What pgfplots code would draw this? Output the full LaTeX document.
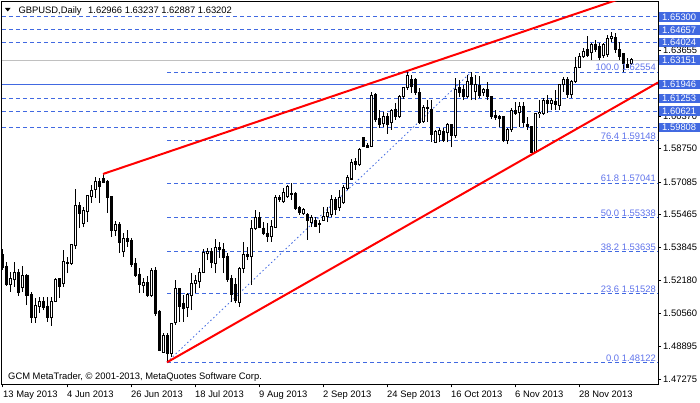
\documentclass[border=0pt]{standalone}
\usepackage{pgfplots}
\pgfplotsset{compat=1.18}
\usepackage{pgfplotstable}
\usepackage{fontspec}
\setmainfont{Liberation Sans}
\definecolor{rb}{RGB}{65,105,225}
\definecolor{fibtxt}{RGB}{95,115,235}
\definecolor{bidgrey}{RGB}{192,192,192}
\newcommand{\mtfont}{\fontsize{9.4}{11}\selectfont}

% daily GBPUSD candles (index = trading day counted from 13 May 2013): bullish days
\pgfplotstableread{
i O H L C
2 1.5197 1.5261 1.5162 1.5227
3 1.5222 1.5311 1.5187 1.5261
5 1.5182 1.5291 1.5162 1.5246
8 1.5033 1.5132 1.5008 1.5097
9 1.5092 1.5137 1.5057 1.5117
12 1.5033 1.5137 1.4993 1.5117
13 1.5117 1.5232 1.5112 1.5222
15 1.5202 1.5371 1.5187 1.5316
17 1.5306 1.5401 1.5296 1.5396
18 1.5391 1.5674 1.5376 1.5590
20 1.5505 1.5585 1.5485 1.5565
21 1.5560 1.5645 1.5510 1.5640
22 1.5635 1.5694 1.5605 1.5669
23 1.5674 1.5734 1.5630 1.5714
28 1.5470 1.5515 1.5441 1.5500
30 1.5361 1.5455 1.5336 1.5426
35 1.5192 1.5232 1.5157 1.5207
37 1.5142 1.5281 1.5137 1.5271
40 1.4863 1.4958 1.4858 1.4943
42 1.4858 1.5008 1.4839 1.5003
43 1.5008 1.5222 1.4998 1.5177
46 1.5087 1.5157 1.5038 1.5147
47 1.5142 1.5256 1.5072 1.5202
48 1.5202 1.5246 1.5157 1.5217
49 1.5212 1.5281 1.5182 1.5261
50 1.5261 1.5376 1.5256 1.5356
51 1.5351 1.5381 1.5321 1.5361
53 1.5306 1.5426 1.5256 1.5381
59 1.5112 1.5286 1.5087 1.5281
60 1.5281 1.5411 1.5256 1.5346
62 1.5336 1.5520 1.5197 1.5480
63 1.5480 1.5570 1.5470 1.5530
67 1.5436 1.5520 1.5411 1.5490
68 1.5485 1.5645 1.5480 1.5630
70 1.5610 1.5679 1.5605 1.5659
71 1.5635 1.5694 1.5630 1.5689
75 1.5550 1.5580 1.5545 1.5570
77 1.5510 1.5545 1.5485 1.5530
79 1.5500 1.5520 1.5455 1.5501
80 1.5520 1.5585 1.5515 1.5535
81 1.5535 1.5585 1.5510 1.5555
82 1.5545 1.5645 1.5535 1.5620
84 1.5580 1.5669 1.5565 1.5630
85 1.5605 1.5694 1.5600 1.5684
86 1.5679 1.5744 1.5669 1.5729
87 1.5724 1.5824 1.5719 1.5804
89 1.5794 1.5878 1.5789 1.5873
92 1.5888 1.6157 1.5883 1.6137
95 1.5998 1.6057 1.5983 1.6033
97 1.6003 1.6072 1.5968 1.6067
99 1.6033 1.6142 1.6028 1.6132
100 1.6132 1.6182 1.6122 1.6177
101 1.6177 1.6255 1.6167 1.6241
105 1.6008 1.6092 1.6003 1.6082
108 1.5908 1.5968 1.5903 1.5958
109 1.5943 1.5978 1.5908 1.5963
111 1.5953 1.6003 1.5908 1.5993
113 1.5938 1.6227 1.5928 1.6167
116 1.6132 1.6241 1.6127 1.6207
118 1.6157 1.6241 1.6117 1.6192
120 1.6152 1.6177 1.6137 1.6167
126 1.5918 1.5978 1.5898 1.5968
127 1.5968 1.6077 1.5958 1.6067
129 1.6057 1.6107 1.5983 1.6087
133 1.5858 1.6052 1.5853 1.6048
134 1.6048 1.6117 1.6028 1.6057
135 1.6052 1.6127 1.6043 1.6117
137 1.6102 1.6127 1.6067 1.6117
139 1.6092 1.6197 1.6067 1.6192
140 1.6192 1.6231 1.6157 1.6217
142 1.6142 1.6217 1.6127 1.6207
143 1.6207 1.6331 1.6202 1.6281
144 1.6281 1.6351 1.6276 1.6331
145 1.6331 1.6376 1.6326 1.6356
147 1.6351 1.6401 1.6316 1.6391
150 1.6336 1.6401 1.6326 1.6391
151 1.6341 1.6440 1.6331 1.6421
152 1.6421 1.6455 1.6406 1.6435
157 1.62966 1.63237 1.62887 1.63202
}\up

% bearish days
\pgfplotstableread{
i O H L C
0 1.5346 1.5376 1.5271 1.5286
1 1.5291 1.5311 1.5192 1.5197
4 1.5261 1.5276 1.5142 1.5157
6 1.5246 1.5251 1.5097 1.5142
7 1.5147 1.5162 1.5008 1.5033
10 1.5117 1.5137 1.5072 1.5087
11 1.5092 1.5137 1.5013 1.5033
14 1.5227 1.5232 1.5132 1.5187
16 1.5311 1.5336 1.5256 1.5306
19 1.5590 1.5610 1.5480 1.5550
24 1.5714 1.5729 1.5605 1.5689
25 1.5724 1.5749 1.5704 1.5709
26 1.5714 1.5719 1.5555 1.5630
27 1.5635 1.5640 1.5436 1.5470
29 1.5500 1.5510 1.5356 1.5406
31 1.5426 1.5470 1.5386 1.5411
32 1.5416 1.5431 1.5286 1.5301
33 1.5306 1.5331 1.5236 1.5246
34 1.5251 1.5281 1.5157 1.5197
36 1.5207 1.5241 1.5137 1.5142
38 1.5271 1.5286 1.5043 1.5057
39 1.5067 1.5072 1.4868 1.4873
41 1.4943 1.4958 1.4812 1.4858
44 1.5177 1.5182 1.5013 1.5092
45 1.5107 1.5147 1.5013 1.5082
52 1.5361 1.5381 1.5281 1.5311
54 1.5381 1.5411 1.5331 1.5371
55 1.5371 1.5406 1.5256 1.5331
56 1.5336 1.5356 1.5212 1.5222
57 1.5227 1.5246 1.5112 1.5147
58 1.5197 1.5232 1.5107 1.5122
61 1.5346 1.5386 1.5321 1.5336
64 1.5530 1.5560 1.5480 1.5485
65 1.5480 1.5510 1.5445 1.5455
66 1.5455 1.5505 1.5411 1.5436
69 1.5630 1.5645 1.5610 1.5620
72 1.5654 1.5704 1.5620 1.5645
73 1.5654 1.5659 1.5570 1.5575
74 1.5580 1.5590 1.5545 1.5555
76 1.5545 1.5555 1.5421 1.5520
78 1.5520 1.5535 1.5485 1.5490
83 1.5620 1.5635 1.5545 1.5570
88 1.5809 1.5829 1.5769 1.5794
90 1.5928 1.5933 1.5883 1.5888
91 1.5893 1.5903 1.5878 1.5883
93 1.6142 1.6152 1.6008 1.6018
94 1.6023 1.6067 1.5978 1.5993
96 1.6033 1.6052 1.5948 1.5993
98 1.6072 1.6102 1.6018 1.6033
102 1.6217 1.6241 1.6152 1.6182
103 1.6217 1.6227 1.6142 1.6152
104 1.6152 1.6177 1.5998 1.6003
106 1.6082 1.6117 1.6008 1.6077
107 1.6072 1.6117 1.5908 1.5943
110 1.5958 1.5978 1.5908 1.5918
112 1.5993 1.5998 1.5883 1.5938
114 1.6177 1.6217 1.6132 1.6152
115 1.6167 1.6192 1.6117 1.6132
117 1.6227 1.6254 1.6117 1.6192
119 1.6187 1.6236 1.6127 1.6137
121 1.6167 1.6207 1.6117 1.6132
122 1.6132 1.6137 1.6023 1.6033
123 1.6038 1.6067 1.6018 1.6028
124 1.6033 1.6043 1.5983 1.6023
125 1.6033 1.6038 1.5908 1.5918
128 1.6067 1.6107 1.6043 1.6052
130 1.6087 1.6107 1.5983 1.6003
131 1.5993 1.6033 1.5968 1.5983
132 1.5983 1.5988 1.5853 1.5858
136 1.6117 1.6142 1.6052 1.6102
138 1.6112 1.6167 1.6067 1.6097
141 1.6217 1.6231 1.6127 1.6142
146 1.6366 1.6435 1.6331 1.6336
148 1.6391 1.6416 1.6356 1.6366
149 1.6381 1.6401 1.6316 1.6326
153 1.6426 1.6450 1.6351 1.6366
154 1.6366 1.6406 1.6316 1.6331
155 1.6346 1.6351 1.6256 1.6301
156 1.6296 1.6326 1.6276 1.6281
}\dn

\pgfplotsset{
  lvl/.style={rb, line width=1pt, dash pattern=on 4pt off 3pt, forget plot},
  seg/.style 2 args={draw=#1, line width=#2, mark=none, forget plot, line cap=butt},
}
\tikzset{
  fiblab/.style={anchor=base east, inner sep=0pt, text=fibtxt, font=\mtfont, yshift=1.2pt},
  pbox/.style={anchor=west, fill=rb, text=white, font=\mtfont, inner sep=0pt,
    minimum width=41pt, minimum height=9.6pt, xshift=0.5pt},
}

\begin{document}
\begin{tikzpicture}
\useasboundingbox (0,0) rectangle (700pt,402pt);
\begin{axis}[
  at={(2pt,17.7pt)}, anchor=south west,
  scale only axis, width=656pt, height=382.3pt,
  xmin=-0.25, xmax=163.75, ymin=1.47026, ymax=1.66046,
  axis line style={black, line width=1pt},
  tick align=outside, major tick length=3pt,
  tick style={black, line width=1pt},
  xtick pos=left, ytick pos=right, yticklabel pos=right,
  xtick={0,16,...,144},
  xticklabels={13 May 2013,4 Jun 2013,26 Jun 2013,18 Jul 2013,9 Aug 2013,2 Sep 2013,24 Sep 2013,16 Oct 2013,6 Nov 2013,28 Nov 2013},
  ytick={1.47275,1.48895,1.50560,1.52180,1.53845,1.55465,1.57085,1.58750,1.60370,1.63655},
  yticklabels={1.47275,1.48895,1.50560,1.52180,1.53845,1.55465,1.57085,1.58750,1.60370,1.63655},
  every tick label/.append style={font=\mtfont, text=black},
  xticklabel style={anchor=base west, inner sep=0pt, yshift=-10pt},
  yticklabel style={anchor=west, inner sep=0pt, xshift=2pt},
  clip mode=individual,
]
% horizontal price levels
\addplot[lvl] coordinates {(-0.25,1.65300) (163.75,1.65300)};
\addplot[lvl] coordinates {(-0.25,1.64657) (163.75,1.64657)};
\addplot[lvl] coordinates {(-0.25,1.64024) (163.75,1.64024)};
\addplot[lvl] coordinates {(-0.25,1.61253) (163.75,1.61253)};
\addplot[lvl] coordinates {(-0.25,1.60621) (163.75,1.60621)};
\addplot[lvl] coordinates {(-0.25,1.59808) (163.75,1.59808)};
\addplot[rb, line width=1pt, forget plot] coordinates {(-0.25,1.61946) (163.75,1.61946)};
\addplot[bidgrey, line width=1pt, forget plot] coordinates {(-0.25,1.63151) (163.75,1.63151)};
% fibonacci levels
\addplot[lvl] coordinates {(41,1.62554) (163.75,1.62554)};
\addplot[lvl] coordinates {(41,1.59148) (163.75,1.59148)};
\addplot[lvl] coordinates {(41,1.57041) (163.75,1.57041)};
\addplot[lvl] coordinates {(41,1.55338) (163.75,1.55338)};
\addplot[lvl] coordinates {(41,1.53635) (163.75,1.53635)};
\addplot[lvl] coordinates {(41,1.51528) (163.75,1.51528)};
\addplot[lvl] coordinates {(41,1.48122) (163.75,1.48122)};
\addplot[rb, line width=0.8pt, dash pattern=on 1.5pt off 2.5pt, forget plot] coordinates {(41,1.48122) (117,1.62554)};
% wicks (low to high)
\addplot[seg={black}{1pt}, quiver={u=0, v=\thisrow{H}-\thisrow{L}}] table[x=i, y=L] {\up};
\addplot[seg={black}{1pt}, quiver={u=0, v=\thisrow{H}-\thisrow{L}}] table[x=i, y=L] {\dn};
% bearish bodies (black)
\addplot[seg={black}{3pt}, quiver={u=0, v=\thisrow{C}-\thisrow{O}-0.0005}] table[x=i, y expr=\thisrow{O}+0.00025] {\dn};
% bullish bodies (white with black outline)
\addplot[seg={black}{3pt}, quiver={u=0, v=\thisrow{C}-\thisrow{O}+0.0005}] table[x=i, y expr=\thisrow{O}-0.00025] {\up};
\addplot[seg={white}{1pt}, quiver={u=0, v={max(\thisrow{C}-\thisrow{O}-0.0005,0)}}] table[x=i, y expr=\thisrow{O}+0.00025] {\up};
% trend lines
\addplot[red, line width=2pt, forget plot] coordinates {(25,1.5749) (160,1.6659)};
\addplot[red, line width=2pt, forget plot] coordinates {(41,1.4812) (163.75,1.6204)};
% fibo labels
\node[fiblab] at (axis cs:163.25,1.62554) {100.0 1.62554};
\node[fiblab] at (axis cs:163.25,1.59148) {76.4 1.59148};
\node[fiblab] at (axis cs:163.25,1.57041) {61.8 1.57041};
\node[fiblab] at (axis cs:163.25,1.55338) {50.0 1.55338};
\node[fiblab] at (axis cs:163.25,1.53635) {38.2 1.53635};
\node[fiblab] at (axis cs:163.25,1.51528) {23.6 1.51528};
\node[fiblab] at (axis cs:163.25,1.48122) {0.0 1.48122};
% anchors for price boxes
\coordinate (p1) at (axis cs:163.75,1.65300);
\coordinate (p2) at (axis cs:163.75,1.64657);
\coordinate (p3) at (axis cs:163.75,1.64024);
\coordinate (p4) at (axis cs:163.75,1.63151);
\coordinate (p5) at (axis cs:163.75,1.61946);
\coordinate (p6) at (axis cs:163.75,1.61253);
\coordinate (p7) at (axis cs:163.75,1.60621);
\coordinate (p8) at (axis cs:163.75,1.59808);
\end{axis}
\node[pbox] at (p1) {1.65300};
\node[pbox] at (p2) {1.64657};
\node[pbox] at (p3) {1.64024};
\node[pbox] at (p4) {1.63151};
\node[pbox] at (p5) {1.61946};
\node[pbox] at (p6) {1.61253};
\node[pbox] at (p7) {1.60621};
\node[pbox] at (p8) {1.59808};
% header and footer
\fill (5pt,394pt) -- (10.5pt,394pt) -- (7.75pt,390.5pt) -- cycle;
\node[anchor=base west, inner sep=0pt, font=\mtfont] at (18.3pt,388.5pt) {GBPUSD,Daily};
\node[anchor=base west, inner sep=0pt, font=\mtfont] at (88pt,388.5pt) {1.62966 1.63237 1.62887 1.63202};
\node[anchor=base west, inner sep=0pt, font=\mtfont] at (8pt,22.5pt) {GCM MetaTrader, © 2001-2013, MetaQuotes Software Corp.};
\end{tikzpicture}
\end{document}
